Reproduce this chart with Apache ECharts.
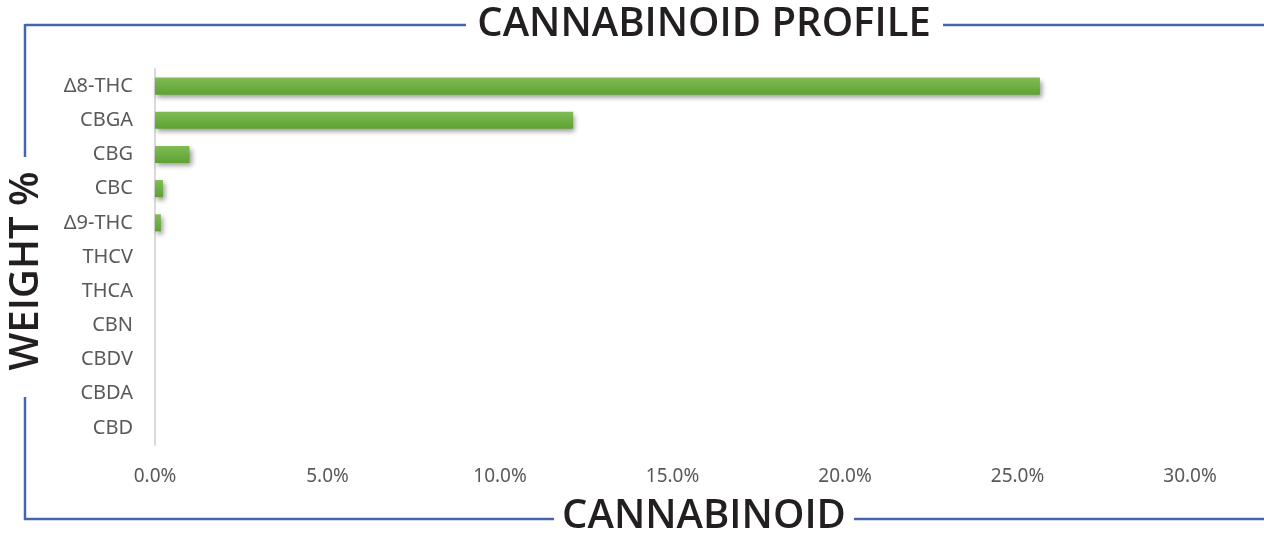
<!DOCTYPE html>
<html>
<head>
<meta charset="utf-8">
<script src="https://cdn.jsdelivr.net/npm/echarts@6/dist/echarts.min.js"></script>
<style>html,body{margin:0;padding:0;background:#fff;}#c{width:1264px;height:537px;}</style>
</head>
<body>
<div id="c"></div>
<script>
const categories = ['Δ8-THC','CBGA','CBG','CBC','Δ9-THC','THCV','THCA','CBN','CBDV','CBDA','CBD'];
const weightPct = [25.65, 12.12, 1.0, 0.23, 0.17, 0, 0, 0, 0, 0, 0];
const xTicks = [0, 5, 10, 15, 20, 25, 30];
const titleText = 'CANNABINOID PROFILE';
const xTitle = 'CANNABINOID';
const yTitle = 'WEIGHT %';

const chart = echarts.init(document.getElementById('c'));
const blue = '#4466b0';
const headFont = '"Open Sans", sans-serif';
chart.setOption({
  animation: false,
  grid: { left: 155, right: 74, top: 69, bottom: 92, containLabel: false },
  xAxis: {
    type: 'value', min: xTicks[0], max: xTicks[xTicks.length-1], interval: 5,
    axisLine: { show: false }, axisTick: { show: false }, splitLine: { show: false },
    axisLabel: { color: '#595959', fontSize: 19, fontFamily: '"Noto Sans", sans-serif', margin: 22,
      formatter: v => v.toFixed(1) + '%' }
  },
  yAxis: {
    type: 'category', data: categories, inverse: true,
    axisLine: { show: true, lineStyle: { color: '#d9d9d9', width: 2 } },
    axisTick: { show: false },
    axisLabel: { color: '#595959', fontSize: 20, fontFamily: '"Noto Sans", sans-serif', margin: 22 }
  },
  series: [{
    type: 'bar', data: weightPct, barWidth: '50%',
    itemStyle: {
      color: new echarts.graphic.LinearGradient(0,0,0,1,[{offset:0,color:'#80bc55'},{offset:1,color:'#5ea233'}]),
      shadowColor: 'rgba(0,0,0,0.4)', shadowBlur: 5, shadowOffsetX: 2, shadowOffsetY: 3
    }
  }],
  graphic: [
    { type: 'line', shape: { x1: 25, y1: 25, x2: 466, y2: 25 }, style: { stroke: blue, lineWidth: 2.5 } },
    { type: 'line', shape: { x1: 943, y1: 25, x2: 1264, y2: 25 }, style: { stroke: blue, lineWidth: 2.5 } },
    { type: 'line', shape: { x1: 25, y1: 24, x2: 25, y2: 157 }, style: { stroke: blue, lineWidth: 2.5 } },
    { type: 'line', shape: { x1: 25, y1: 397, x2: 25, y2: 520 }, style: { stroke: blue, lineWidth: 2.5 } },
    { type: 'line', shape: { x1: 24, y1: 519, x2: 554, y2: 519 }, style: { stroke: blue, lineWidth: 2.5 } },
    { type: 'line', shape: { x1: 854, y1: 519, x2: 1264, y2: 519 }, style: { stroke: blue, lineWidth: 2.5 } },
    { type: 'text', x: 704, y: 25, style: { text: titleText, fill: '#231f20', font: '600 40px ' + headFont, textAlign: 'center', textVerticalAlign: 'middle' } },
    { type: 'text', x: 704, y: 517, style: { text: xTitle, fill: '#231f20', font: '600 40px ' + headFont, textAlign: 'center', textVerticalAlign: 'middle' } },
    { type: 'text', x: 27, y: 271, rotation: Math.PI/2, style: { text: yTitle, fill: '#231f20', font: '600 40px ' + headFont, textAlign: 'center', textVerticalAlign: 'middle' } }
  ]
});
</script>
</body>
</html>
